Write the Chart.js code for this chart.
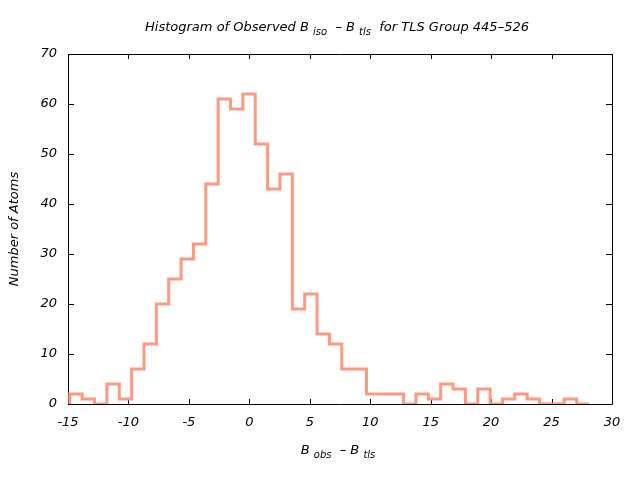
<!DOCTYPE html>
<html>
<head>
<meta charset="utf-8">
<script src="https://cdn.jsdelivr.net/npm/chart.js@4/dist/chart.umd.min.js"></script>
<style>
  body { margin: 0; background: #fff; }
  canvas { display: block; }
</style>
</head>
<body>
<canvas id="myChart" width="640" height="480"></canvas>
<script>
// Histogram bins (B_obs - B_tls)
const binStart = -14.85;
const binWidth = 1.0226;
const counts = [2, 1, 0, 4, 1, 7, 12, 20, 25, 29, 32, 44, 61, 59, 62, 52, 43, 46, 19,
                22, 14, 12, 7, 7, 2, 2, 2, 0, 2, 1, 4, 3, 0, 3, 0, 1, 2, 1, 0, 0, 1, 0];
const xTicks = [-15, -10, -5, 0, 5, 10, 15, 20, 25, 30];
const yTicks = [0, 10, 20, 30, 40, 50, 60, 70];

const FONT = "'DejaVu Sans', sans-serif";

// step outline points: start at zero on the first edge, close on the last edge
const points = [{ x: binStart, y: 0 }];
counts.forEach((c, i) => points.push({ x: binStart + i * binWidth, y: c }));
points.push({ x: binStart + counts.length * binWidth, y: 0 });

// text with subscripts, drawn centred at (cx, cy)
function richText(ctx, parts, cx, cy, size) {
    const subSize = Math.round(size * 0.8);
    let total = 0;
    parts.forEach(p => {
        ctx.font = "italic " + (p.sub ? subSize : size) + "px " + FONT;
        p.w = ctx.measureText(p.t).width;
        total += p.w;
    });
    let x = cx - total / 2;
    ctx.textAlign = 'left';
    ctx.textBaseline = 'middle';
    parts.forEach(p => {
        ctx.font = "italic " + (p.sub ? subSize : size) + "px " + FONT;
        ctx.fillText(p.t, x, cy + (p.sub ? 4 : 0));
        x += p.w;
    });
}

const framePlugin = {
    id: 'frame',
    beforeDatasetsDraw(chart) {
        const { ctx, chartArea: a, scales } = chart;
        ctx.save();
        ctx.strokeStyle = '#000';
        ctx.lineWidth = 1;
        ctx.beginPath();
        ctx.rect(a.left + 0.5, a.top + 0.5, a.right - a.left, a.bottom - a.top);
        // inward ticks on all four sides
        xTicks.forEach(v => {
            const px = Math.round(scales.x.getPixelForValue(v)) + 0.5;
            ctx.moveTo(px, a.bottom); ctx.lineTo(px, a.bottom - 5);
            ctx.moveTo(px, a.top); ctx.lineTo(px, a.top + 5);
        });
        yTicks.forEach(v => {
            const py = Math.round(scales.y.getPixelForValue(v)) + 0.5;
            ctx.moveTo(a.left, py); ctx.lineTo(a.left + 6, py);
            ctx.moveTo(a.right, py); ctx.lineTo(a.right - 6, py);
        });
        ctx.stroke();
        ctx.restore();
    },
    afterDraw(chart) {
        const ctx = chart.ctx;
        ctx.save();
        ctx.fillStyle = '#000';
        richText(ctx, [
            { t: 'Histogram of Observed B ' }, { t: 'iso', sub: true },
            { t: '  \u2013 B ' }, { t: 'tls', sub: true },
            { t: '  for TLS Group 445\u2013526' }
        ], 337, 28, 13);
        richText(ctx, [
            { t: 'B ' }, { t: 'obs', sub: true }, { t: '  \u2013 B ' }, { t: 'tls', sub: true }
        ], 338, 451, 13);
        ctx.translate(15, 229);
        ctx.rotate(-Math.PI / 2);
        richText(ctx, [{ t: 'Number of Atoms' }], 0, 0, 13);
        ctx.restore();
    }
};

const ctx = document.getElementById('myChart').getContext('2d');
new Chart(ctx, {
    type: 'line',
    data: {
        datasets: [{
            data: points,
            stepped: 'before',
            borderColor: '#ff9980',
            borderWidth: 3,
            pointRadius: 0,
            fill: false
        }]
    },
    options: {
        responsive: false,
        animation: false,
        layout: { padding: { top: 54, right: 28, left: 0, bottom: 0 } },
        plugins: { legend: { display: false }, tooltip: { enabled: false } },
        scales: {
            x: {
                type: 'linear',
                min: -15,
                max: 30,
                afterBuildTicks: s => { s.ticks = xTicks.map(v => ({ value: v })); },
                afterFit: s => { s.height = 76; },
                grid: { display: false, drawTicks: false },
                border: { display: false },
                ticks: { color: '#000', padding: 11, maxRotation: 0, font: { family: FONT, size: 13, style: 'italic' } }
            },
            y: {
                min: 0,
                max: 70,
                afterBuildTicks: s => { s.ticks = yTicks.map(v => ({ value: v })); },
                afterFit: s => { s.width = 68; },
                grid: { display: false, drawTicks: false },
                border: { display: false },
                ticks: { color: '#000', padding: 11, font: { family: FONT, size: 13, style: 'italic' } }
            }
        }
    },
    plugins: [framePlugin]
});
</script>
</body>
</html>
